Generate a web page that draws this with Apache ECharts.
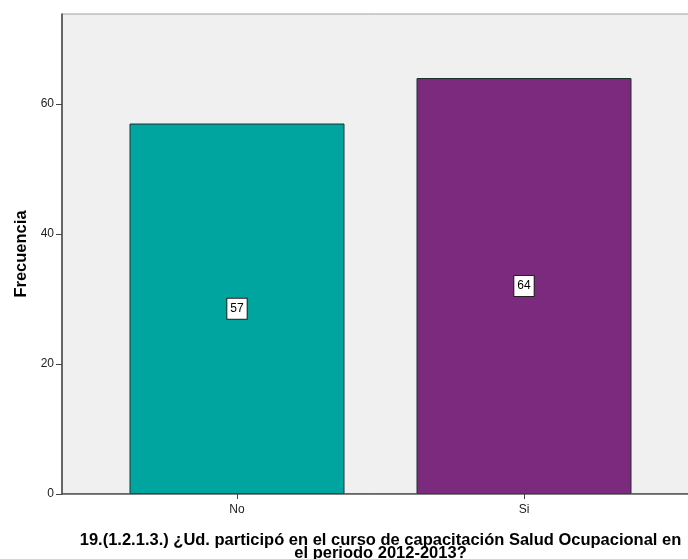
<!DOCTYPE html>
<html>
<head>
<meta charset="utf-8">
<script src="https://cdn.jsdelivr.net/npm/echarts@6/dist/echarts.min.js"></script>
<style>
  html, body { margin: 0; padding: 0; background: #ffffff; }
  #chart { width: 688px; height: 559px; }
</style>
</head>
<body>
<div id="chart"></div>
<script>
// Respuestas a la pregunta 19 (frecuencias)
const categories = ['No', 'Si'];
const frequencies = [57, 64];
const barColors = ['#00a5a0', '#7b2a7e'];
const yTicks = [0, 20, 40, 60];

const yMax = 73.85;
const font = 'Arial, "Liberation Sans", sans-serif';

const chart = echarts.init(document.getElementById('chart'), null, { renderer: 'canvas' });

chart.setOption({
  animation: false,
  backgroundColor: '#ffffff',
  grid: [
    // plot frame with the frequency axis
    { left: 62, right: -11, top: 14, bottom: 65, show: true, outerBoundsMode: 'none',
      backgroundColor: '#f0f0f0', borderColor: '#a0a0a0', borderWidth: 1 },
    // inner band for the category bars
    { left: 93.5, right: 20.5, top: 14, bottom: 65, outerBoundsMode: 'none' }
  ],
  xAxis: [
    { gridIndex: 0, type: 'value', min: 0, max: 1, show: false },
    {
      gridIndex: 1, type: 'category', data: categories,
      name: '19.(1.2.1.3.) ¿Ud. participó en el curso de capacitación Salud Ocupacional en\nel periodo 2012-2013?',
      nameLocation: 'middle', nameGap: 40,
      nameTextStyle: { fontFamily: font, fontWeight: 'bold', fontSize: 16.5, color: '#000', lineHeight: 13 },
      axisLine: { show: false },
      axisTick: { show: true, alignWithLabel: true, length: 5, lineStyle: { color: '#444' } },
      axisLabel: { fontFamily: font, fontSize: 12, color: '#222', margin: 10 }
    }
  ],
  yAxis: [
    {
      gridIndex: 0, type: 'value', min: 0, max: yMax, interval: 20,
      name: 'Frecuencia', nameLocation: 'middle', nameGap: 32, nameRotate: 90,
      nameTextStyle: { fontFamily: font, fontWeight: 'bold', fontSize: 16.5, color: '#000' },
      axisLine: { show: true, lineStyle: { color: '#444', width: 1.5 } },
      axisTick: { show: true, length: 6, customValues: yTicks, lineStyle: { color: '#444' } },
      axisLabel: { fontFamily: font, fontSize: 12, color: '#222', margin: 8, customValues: yTicks },
      splitLine: { show: false }
    },
    { gridIndex: 1, type: 'value', min: 0, max: yMax, show: false }
  ],
  series: [
    {
      // baseline of the plot
      type: 'line', xAxisIndex: 0, yAxisIndex: 0,
      data: [[0, 0], [1, 0]], symbol: 'none', silent: true,
      lineStyle: { color: '#444', width: 1.5 }
    },
    {
      type: 'bar', xAxisIndex: 1, yAxisIndex: 1,
      barWidth: 215,
      data: frequencies.map((v, i) => ({ value: v, itemStyle: { color: barColors[i] } })),
      itemStyle: { borderColor: '#1e3030', borderWidth: 1 },
      label: {
        show: true, position: 'inside',
        fontFamily: font, fontSize: 12, color: '#000',
        backgroundColor: '#ffffff', borderColor: '#222', borderWidth: 1,
        padding: [5, 3, 3, 3]
      }
    }
  ]
});
</script>
</body>
</html>
